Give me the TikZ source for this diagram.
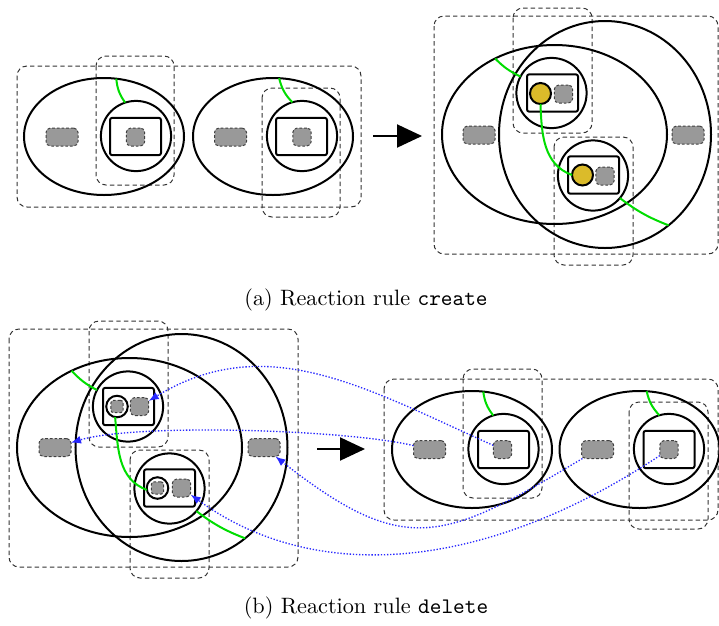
\documentclass[tikz,border=0pt]{standalone}
\usetikzlibrary{shapes.geometric,arrows.meta}
\definecolor{portgray}{RGB}{153,153,153}
\definecolor{atomyellow}{RGB}{219,187,42}
\definecolor{linkgreen}{RGB}{0,221,0}
\definecolor{mapblue}{RGB}{40,40,255}
\tikzset{
  mysl/.style={draw, line width=0.9pt, inner sep=0pt, outer sep=0pt},
  myell/.style={mysl, ellipse, minimum width=72pt, minimum height=52.65pt},
  mybigell/.style={mysl, ellipse, minimum width=101.25pt, minimum height=80.55pt},
  mybigcirc/.style={mysl, ellipse, minimum width=95.4pt, minimum height=102.15pt},
  mysite/.style={mysl, circle, minimum size=31.6pt},
  myrbox/.style={mysl, rectangle, rounded corners=1pt, minimum width=22.95pt, minimum height=16.8pt},
  myport/.style={rectangle, fill=portgray, draw=black!75, line width=0.45pt,
    dash pattern=on 1.2pt off 0.9pt, rounded corners=2pt,
    minimum width=14.4pt, minimum height=8.1pt, inner sep=0pt, outer sep=0pt},
  mysq/.style={myport, minimum width=8.3pt, minimum height=8.1pt},
  mytiny/.style={myport, minimum width=5.6pt, minimum height=5.6pt, rounded corners=1.3pt},
  myatom/.style={mysl, circle, fill=atomyellow, minimum size=9.45pt},
  myring/.style={mysl, circle, minimum size=9.7pt},
  mydbox/.style={draw=black!80, line width=0.45pt, dash pattern=on 2pt off 1.4pt, rounded corners=4.5pt},
  mylink/.style={draw=linkgreen, line width=0.9pt},
  mymap/.style={draw=mapblue, line width=0.6pt, dash pattern=on 0.6pt off 0.8pt,
    -{Latex[length=4.5pt,width=3.6pt]}},
  mybigarrow/.style={line width=0.9pt, -{Triangle[length=11.25pt,width=10.35pt]}}
}
\begin{document}
\begin{tikzpicture}[x=0.45pt, y=-0.45pt]
\useasboundingbox (0,0) rectangle (719,625);

% ---------- (a) left: two separate ellipses ----------
\draw[mydbox] (17,66) rectangle (361,207);
\draw[mydbox] (96,56) rectangle (174,185);
\draw[mydbox] (262,88) rectangle (340,217);
\node[myell] (E1) at (104,136.5) {};
\node[myport] (p1) at (62,137) {};
\node[mysite] (s1) at (136,136) {};
\node[myrbox] (r1) at (135.5,136.5) {};
\node[mysq] (q1) at (135.5,137) {};
\node[myell] (E2) at (273,136.5) {};
\node[myport] (p2) at (230.5,137) {};
\node[mysite] (s2) at (302,136) {};
\node[myrbox] (r2) at (301.5,136.5) {};
\node[mysq] (q2) at (302,137) {};
\draw[mylink] (E1.78) to[bend right=15] (s1.108);
\draw[mylink] (E2.84) to[bend right=15] (s2.106);

\coordinate (a1s) at (373,136);
\coordinate (a1e) at (422,136);
\draw[mybigarrow] (a1s) -- (a1e);

% ---------- (a) right: nested result ----------
\draw[mydbox] (434,16) rectangle (718,254);
\draw[mydbox] (513,8) rectangle (592,133);
\draw[mydbox] (554,137) rectangle (633,265);
\node[mybigell] (BE) at (554.5,134.5) {};
\node[mybigcirc] (BC) at (605,134.5) {};
\node[myport] (pL1) at (479,135) {};
\node[myport] (pR1) at (688,135) {};
\node[mysite] (t1) at (551.5,93) {};
\node[myrbox] (tr1) at (552.5,93) {};
\node[myatom] (y1) at (540.5,93.5) {};
\node[mysq] (tq1) at (563.5,94) {};
\node[mysite] (t2) at (593,175.5) {};
\node[myrbox] (tr2) at (593.5,175) {};
\node[myatom] (y2) at (582.5,175) {};
\node[mysq] (tq2) at (605,176) {};
\draw[mylink] (BE.128) to[bend right=10] (t1.152);
\draw[mylink] (y1.south) to[out=-88,in=160] (y2.west);
\draw[mylink] (t2.-40) to[bend right=8] (BC.-55);

\node (capA) at (366,300) {(a) Reaction rule \texttt{create}};

% ---------- (b) left: nested ----------
\draw[mydbox] (9,329) rectangle (298,567);
\draw[mydbox] (89,321) rectangle (168,447);
\draw[mydbox] (130,450) rectangle (209,578);
\node[mybigell] (BE2) at (129.5,447.5) {};
\node[mybigcirc] (BC2) at (181.5,447.5) {};
\node[myport] (pL2) at (55,447.5) {};
\node[myport] (pR2) at (264,447.5) {};
\node[mysite] (b1) at (128,406.5) {};
\node[myrbox] (br1) at (128.5,406.5) {};
\node[myring] (w1) at (117,406.5) {};
\node[mytiny] (wi1) at (117,406.5) {};
\node[mysq] (bq1) at (139.5,406.5) {};
\node[mysite] (b2) at (169.5,488.5) {};
\node[myrbox] (br2) at (169.5,488) {};
\node[myring] (w2) at (157.5,488) {};
\node[mytiny] (wi2) at (157.5,488) {};
\node[mysq] (bq2) at (181.5,488) {};
\draw[mylink] (BE2.127) to[bend right=10] (b1.152);
\draw[mylink] (w1.-100) to[out=-85,in=160] (w2.190);
\draw[mylink] (b2.-40) to[bend right=8] (BC2.-55);

\coordinate (a2s) at (317,449);
\coordinate (a2e) at (365,449);
\draw[mybigarrow] (a2s) -- (a2e);

% ---------- (b) right: two separate ellipses ----------
\draw[mydbox] (384,379) rectangle (718,520);
\draw[mydbox] (463,369) rectangle (542,498);
\draw[mydbox] (629,402) rectangle (708,529);
\node[myell] (E3) at (472,449.5) {};
\node[myport] (p3) at (429.5,449.5) {};
\node[mysite] (s3) at (503.5,449) {};
\node[myrbox] (r3) at (503.5,449.5) {};
\node[mysq] (q3) at (502.5,449.5) {};
\node[myell] (E4) at (639.5,449.5) {};
\node[myport] (p4) at (597.5,449.5) {};
\node[mysite] (s4) at (669,449) {};
\node[myrbox] (r4) at (669,449.5) {};
\node[mysq] (q4) at (669,449.5) {};
\draw[mylink] (E3.79) to[bend right=15] (s3.107);
\draw[mylink] (E4.83) to[bend right=15] (s4.106);

% ---------- mapping arrows ----------
\draw[mymap] (q3) .. controls (367,389) and (267,329) .. (bq1);
\draw[mymap] (p3) .. controls (347,429.5) and (136,423) .. (pL2);
\draw[mymap] (p4) .. controls (444,541) and (406,559) .. (pR2);
\draw[mymap] (q4) .. controls (484,572) and (315,585) .. (bq2);

\node (capB) at (366,608) {(b) Reaction rule \texttt{delete}};
\end{tikzpicture}
\end{document}
